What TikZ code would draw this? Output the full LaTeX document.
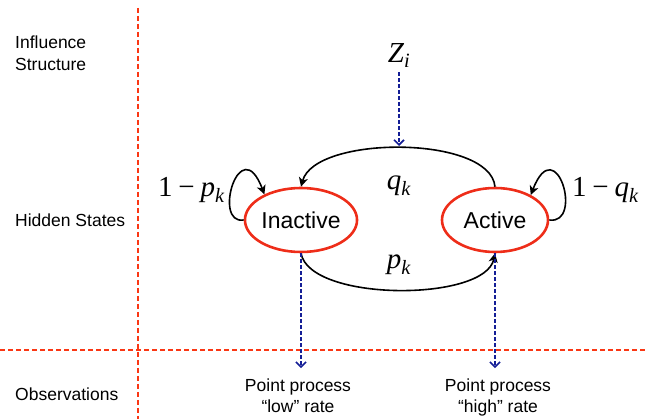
\documentclass[tikz,border=0pt]{standalone}
\usepackage{fontspec}
\usepackage{amsmath}
\setmainfont{Liberation Sans}
\newfontfamily\tms{Liberation Serif}
\usetikzlibrary{arrows.meta,shapes.geometric}
\definecolor{sepred}{RGB}{250,55,20}
\definecolor{statered}{RGB}{238,45,25}
\definecolor{obsblue}{RGB}{20,30,150}

\begin{document}
\begin{tikzpicture}[x=1pt,y=-1pt,
  lbl/.style={anchor=base west,inner sep=0pt,align=left,font=\fontsize{17.5}{22}\selectfont},
  obs/.style={anchor=base,inner sep=0pt,align=center,font=\fontsize{17.5}{21}\selectfont},
  state/.style={ellipse,draw=statered,line width=2.6pt,minimum width=106pt,minimum height=64pt,inner sep=0pt,font=\fontsize{23}{26}\selectfont},
  prob/.style={anchor=base,inner sep=0pt,font=\fontsize{29}{32}\selectfont\tms},
  sep/.style={sepred,line width=1.5pt,dash pattern=on 5pt off 3pt},
  trans/.style={line width=1.6pt,-{Stealth[length=9pt,width=9pt,inset=2.5pt]}},
  infl/.style={obsblue,line width=1.6pt,dash pattern=on 4pt off 2pt,-{Straight Barb[length=5pt,width=10pt]}}]
\useasboundingbox (0,0) rectangle (648,419);
% separators
\draw[sep] (138,8) -- (138,419);
\draw[sep] (0,350) -- (648,350);
% row labels
\node[lbl] (linfl) at (15,71) {Influence\\Structure};
\node[lbl] (lhid) at (15,227) {Hidden States};
\node[lbl] (lobs) at (15,401) {Observations};
% states
\node[state] (inact) at (301,220) {Inactive};
\node[state] (act) at (495,220) {Active};
\node[prob] (zi) at (399,63) {\textit{Z}$_{\textit{i}}$};
\node[prob] (qk) at (399,190) {\textit{q}$_{\textit{k}}$};
\node[prob] (pk) at (399,269) {\textit{p}$_{\textit{k}}$};
\node[prob,anchor=base west] (stayp) at (158,197) {1\hspace{0.2em}−\hspace{0.2em}\textit{p}$_{\textit{k}}$};
\node[prob,anchor=base west] (stayq) at (572,197) {1\hspace{0.2em}−\hspace{0.2em}\textit{q}$_{\textit{k}}$};
\node[obs] (lowobs) at (298,413) {Point process\\“low” rate};
\node[obs] (highobs) at (498,413) {Point process\\“high” rate};
\coordinate (qtop) at (399,146);
% transitions
\draw[trans] (act.north) .. controls (490,135) and (315,135) .. (inact.north);
\draw[trans] (inact.south) .. controls (310,302) and (485,302) .. (act.south);
\draw[trans] (inact.west) .. controls (212,225) and (240,130) .. (inact.145);
\draw[trans] (act.east) .. controls (584,225) and (556,130) .. (act.35);
% influence and observations
\draw[infl,shorten <=4pt] (zi.south) -- (qtop);
\draw[infl,shorten >=11pt] (inact.south) -- (inact.south |- lowobs.north);
\draw[infl,shorten >=11pt] (act.south) -- (act.south |- highobs.north);
\end{tikzpicture}
\end{document}
